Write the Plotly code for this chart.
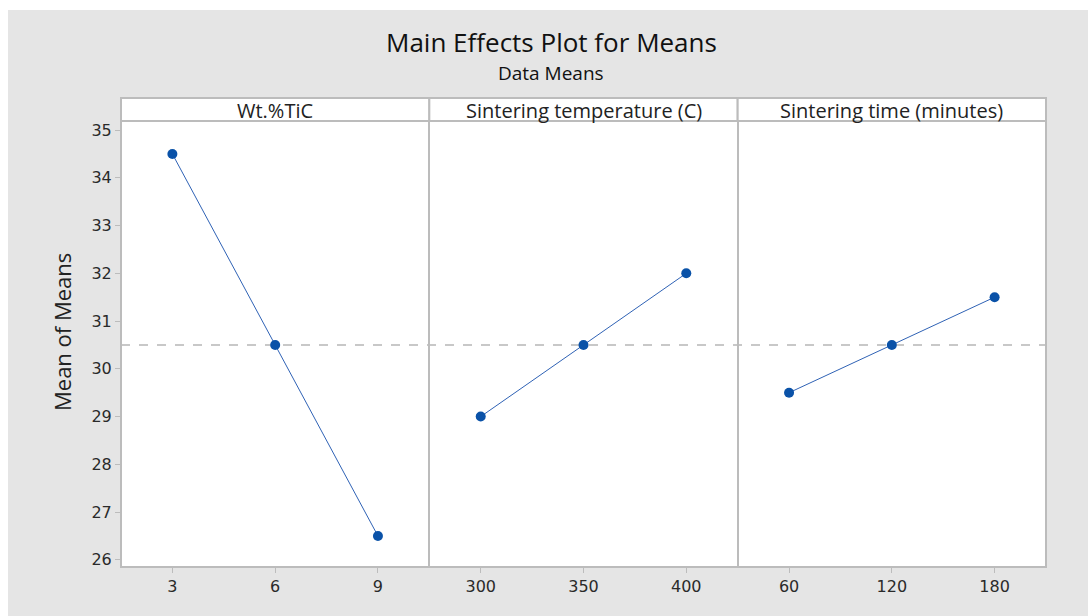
import plotly.graph_objects as go
from plotly.subplots import make_subplots

# ---- data ----
factors = ["Wt.%TiC", "Sintering temperature (C)", "Sintering time (minutes)"]
levels_tic = ["3", "6", "9"]
means_tic = [34.5, 30.5, 26.5]
levels_temp = ["300", "350", "400"]
means_temp = [29.0, 30.5, 32.0]
levels_time = ["60", "120", "180"]
means_time = [29.5, 30.5, 31.5]
grand_mean = 30.5
y_ticks = [26, 27, 28, 29, 30, 31, 32, 33, 34, 35]

levels = [levels_tic, levels_temp, levels_time]
means = [means_tic, means_temp, means_time]

W, H = 1088, 616
L, R, T, B = 121, 1046, 121, 567
pw, ph = R - L, B - T


def px(x):
    return (x - L) / pw


def py(y):
    return (B - y) / ph


FRAME = "#bcbcbc"
BG = "#e5e5e5"
BLUE = "#0a52a8"
FONT = "Open Sans"
TICKFONT = dict(family="DejaVu Sans", size=16, color="#2a2a2a")

fig = make_subplots(rows=1, cols=3, shared_yaxes=True, horizontal_spacing=0)

for i in range(3):
    fig.add_trace(
        go.Scatter(
            x=levels[i], y=means[i], mode="lines+markers",
            line=dict(color="#2f62b5", width=1),
            marker=dict(color=BLUE, size=10, symbol="circle"),
            showlegend=False, hoverinfo="x+y",
        ),
        row=1, col=i + 1,
    )
    fig.update_xaxes(
        type="category", range=[-0.5, 2.5], showgrid=False, zeroline=False,
        showline=True, mirror=True, linecolor=FRAME, linewidth=1,
        ticks="outside", ticklen=5, tickcolor=FRAME, tickwidth=1,
        tickfont=TICKFONT,
        row=1, col=i + 1,
    )
    fig.update_yaxes(
        range=[25.85, 35.19], tickvals=y_ticks, showgrid=False, zeroline=False,
        showline=True, mirror=True, linecolor=FRAME, linewidth=1,
        ticks="outside" if i == 0 else "", ticklen=5, tickcolor=FRAME,
        showticklabels=(i == 0),
        tickfont=TICKFONT,
        row=1, col=i + 1,
    )
    xd = "x domain" if i == 0 else f"x{i+1} domain"
    fig.add_shape(type="rect", xref=xd, yref="y domain", x0=0, x1=1,
                  y0=1.0, y1=py(98), fillcolor="white",
                  line=dict(color=FRAME, width=2), layer="above")
    fig.add_annotation(text=factors[i], xref=xd, yref="paper", x=0.5,
                       y=py(110), xanchor="center", yanchor="middle",
                       showarrow=False,
                       font=dict(family=FONT, size=20, color="#222222"))

# outer frame of the panels
fig.add_shape(type="rect", xref="paper", yref="paper", x0=0, x1=1, y0=0, y1=1,
              line=dict(color=FRAME, width=2), layer="above")

# grand mean reference line
fig.add_shape(type="line", xref="paper", yref="y", x0=0, x1=1,
              y0=grand_mean, y1=grand_mean,
              line=dict(color="#c8c8c8", width=2, dash="dash"), layer="below")

# white strips at top and left of the picture
fig.add_shape(type="rect", xref="paper", yref="paper", x0=px(-5), x1=px(W + 5),
              y0=py(10), y1=py(-5), fillcolor="white", line=dict(width=0),
              layer="below")
fig.add_shape(type="rect", xref="paper", yref="paper", x0=px(-5), x1=px(8),
              y0=py(H + 5), y1=py(-5), fillcolor="white", line=dict(width=0),
              layer="below")

# titles
fig.add_annotation(text="Main Effects Plot for Means", xref="paper", yref="paper",
                   x=px(551), y=py(42), xanchor="center", yanchor="middle",
                   showarrow=False,
                   font=dict(family=FONT, size=26, color="#111111"))
fig.add_annotation(text="Data Means", xref="paper", yref="paper",
                   x=px(551), y=py(73), xanchor="center", yanchor="middle",
                   showarrow=False,
                   font=dict(family=FONT, size=19, color="#111111"))
fig.add_annotation(text="Mean of Means", xref="paper", yref="paper",
                   x=px(62), y=py(332), xanchor="center", yanchor="middle",
                   showarrow=False, textangle=-90,
                   font=dict(family=FONT, size=22, color="#222222"))

fig.update_layout(
    width=W, height=H,
    margin=dict(l=L, r=W - R, t=T, b=H - B),
    paper_bgcolor=BG, plot_bgcolor="white",
    showlegend=False,
)

fig.write_html("out.html")
